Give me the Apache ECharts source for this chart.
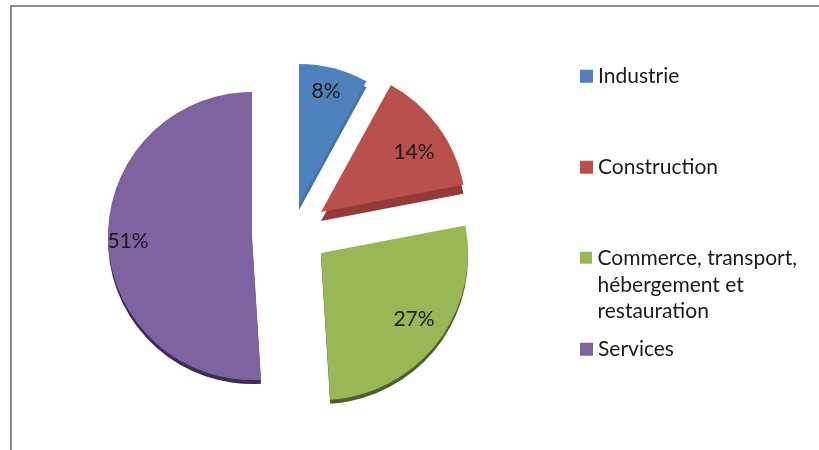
<!DOCTYPE html>
<html><head><meta charset="utf-8">
<style>html,body{margin:0;padding:0;background:#fff}#c{width:819px;height:450px}</style>
<script src="https://cdn.jsdelivr.net/npm/echarts@6/dist/echarts.min.js"></script>
</head><body><div id="c"></div>
<script>
const categories = ["Industrie", "Construction", "Commerce, transport,\nhébergement et\nrestauration", "Services"];
const values = [8, 14, 27, 51];
const colors = ["#4f81bd", "#b9504b", "#98b855", "#7f63a1"];
const depthColors = ["#4672a8", "#943b39", "#4f6030", "#3d2d56"];
const depths = [6, 9, 4, 4];
const centers = [[299, 204], [321, 212], [321, 253], [252, 236]];
const radii = [140, 145, 147, 144];
const labelCenters = [[326, 91], [414, 152], [414, 319], [128, 241]];
const legendTops = [58, 149, 240, 331];
const FONT = "Lato";
const total = values.reduce((a, b) => a + b, 0);
let cumulative = 0;
const series = categories.map((name, i) => {
  const startAngle = 90 - 360 * cumulative / total;
  cumulative += values[i];
  const face = {
    color: colors[i], shadowColor: depthColors[i], shadowBlur: 0,
    shadowOffsetX: 0, shadowOffsetY: depths[i]
  };
  return {
    type: 'pie',
    center: centers[i],
    radius: [0, radii[i]],
    startAngle,
    clockwise: true,
    silent: true,
    label: {
      show: true, position: 'inside', formatter: p => p.value + '%',
      fontFamily: FONT, fontSize: 21, color: '#1a1a1a'
    },
    labelLine: {show: false},
    labelLayout: () => ({x: labelCenters[i][0], y: labelCenters[i][1], align: 'center', verticalAlign: 'middle'}),
    emphasis: {disabled: true},
    data: [
      {name, value: values[i], itemStyle: face},
      {name: '', value: total - values[i], itemStyle: {color: 'transparent'}, label: {show: false}}
    ]
  };
});
const chart = echarts.init(document.getElementById('c'), null, {renderer: 'canvas'});
chart.setOption({
  animation: false,
  backgroundColor: '#fff',
  graphic: [
    {type: 'line', shape: {x1: 11, y1: 6, x2: 819, y2: 6}, style: {stroke: '#8c8c8c', lineWidth: 2}},
    {type: 'line', shape: {x1: 11, y1: 5, x2: 11, y2: 450}, style: {stroke: '#8c8c8c', lineWidth: 2}}
  ],
  legend: categories.map((name, i) => ({
    data: [name],
    orient: 'vertical',
    left: 575,
    top: legendTops[i],
    icon: i === 2 ? 'path://M0 0H12V12H0Z M0 66H12' : 'rect',
    itemWidth: 13,
    itemHeight: i === 2 ? 66 : 13,
    selectedMode: false,
    textStyle: {fontFamily: FONT, fontSize: 21, color: '#1a1a1a', lineHeight: 26.5}
  })),
  series
});
</script></body></html>
